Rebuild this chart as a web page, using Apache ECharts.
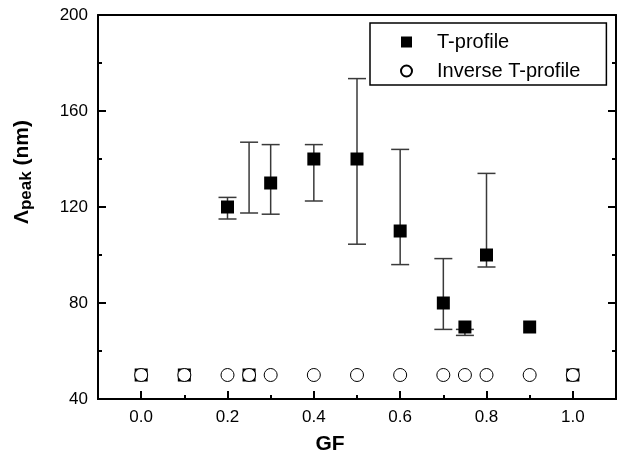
<!DOCTYPE html>
<html>
<head>
<meta charset="UTF-8">
<title>GF vs peak</title>
<script src="https://cdn.jsdelivr.net/npm/echarts@6/dist/echarts.min.js"></script>
<style>
  html, body { margin: 0; padding: 0; background: #fff; }
  #main { width: 618px; height: 460px; }
</style>
</head>
<body>
<div id="main"></div>
<script>
// data
var gfT = [0.0, 0.1, 0.2, 0.25, 0.3, 0.4, 0.5, 0.6, 0.7, 0.75, 0.8, 0.9, 1.0];
var peakT = [50, 50, 120, 50, 130, 140, 140, 110, 80, 70, 100, 70, 50];
var gfInv = [0.0, 0.1, 0.2, 0.25, 0.3, 0.4, 0.5, 0.6, 0.7, 0.75, 0.8, 0.9, 1.0];
var peakInv = [50, 50, 50, 50, 50, 50, 50, 50, 50, 50, 50, 50, 50];
// error bars (T-profile)
var errGF = [0.2, 0.25, 0.3, 0.4, 0.5, 0.6, 0.7, 0.75, 0.8];
var errLow = [115, 117.5, 117, 122.5, 104.5, 96, 69, 66.5, 95];
var errHigh = [124, 147, 146, 146, 173.5, 144, 98.5, 69, 134];
var xMajor = [0.0, 0.2, 0.4, 0.6, 0.8, 1.0];
var xMinor = [0.1, 0.3, 0.5, 0.7, 0.9];

var font = 'Liberation Sans, Arial, sans-serif';

function pairs(xs, ys) {
    return xs.map(function (x, i) { return [x, ys[i]]; });
}
var errData = errGF.map(function (x, i) { return [x, errLow[i], errHigh[i]]; });

var myChart = echarts.init(document.getElementById('main'));

var option = {
    animation: false,
    textStyle: { fontFamily: font },
    grid: { left: 98, right: 2, top: 15, bottom: 59 },
    legend: {
        left: 370, top: 23,
        orient: 'vertical',
        backgroundColor: '#fff',
        borderColor: '#000', borderWidth: 1.5,
        padding: [9, 26, 4, 30],
        itemWidth: 11, itemHeight: 11, itemGap: 9,
        textStyle: { fontSize: 20, color: '#000', padding: [0, 0, 0, 20] },
        data: [
            { name: 'T-profile', icon: 'rect' },
            { name: 'Inverse T-profile', icon: 'circle' }
        ]
    },
    xAxis: [
        {
            type: 'value', min: -0.1, max: 1.1,
            name: 'GF', nameLocation: 'middle', nameGap: 35,
            nameTextStyle: { fontSize: 21, fontWeight: 'bold', color: '#000', padding: [0, 54, 0, 0] },
            axisLine: { onZero: false, lineStyle: { color: '#000', width: 2 } },
            axisTick: { inside: true, length: 8, lineStyle: { width: 2 }, customValues: xMajor },
            axisLabel: { fontSize: 17, color: '#000', margin: 10, customValues: xMajor,
                formatter: function (v) { return v.toFixed(1); } },
            splitLine: { show: false }
        },
        {
            type: 'value', min: -0.1, max: 1.1, position: 'bottom',
            axisLine: { onZero: false, lineStyle: { color: '#000', width: 2 } },
            axisTick: { inside: true, length: 4, lineStyle: { width: 2 }, customValues: xMinor },
            axisLabel: { show: false },
            splitLine: { show: false }
        },
        {
            type: 'value', min: -0.1, max: 1.1, position: 'top',
            axisLine: { onZero: false, lineStyle: { color: '#000', width: 2 } },
            axisTick: { show: false },
            axisLabel: { show: false },
            splitLine: { show: false }
        }
    ],
    yAxis: [
        {
            type: 'value', min: 40, max: 200, interval: 40,
            name: '{a|Λ}{s|peak}{a| (nm)}', nameLocation: 'middle', nameGap: 63,
            nameTextStyle: {
                color: '#000', padding: [0, 0, 0, 70],
                rich: {
                    a: { fontSize: 21, fontWeight: 'bold', color: '#000', lineHeight: 26, fontFamily: font },
                    s: { fontSize: 17, fontWeight: 'bold', color: '#000', lineHeight: 26, verticalAlign: 'bottom', fontFamily: font, padding: [7, 0, 0, 0] }
                }
            },
            axisLine: { show: true, onZero: false, lineStyle: { color: '#000', width: 2 } },
            axisTick: { inside: true, length: 8, lineStyle: { width: 2 } },
            minorTick: { show: true, splitNumber: 2, length: 4, lineStyle: { color: '#000', width: 2 } },
            axisLabel: { fontSize: 17, color: '#000', margin: 10 },
            splitLine: { show: false }
        },
        {
            type: 'value', min: 40, max: 200, interval: 40, position: 'right',
            axisLine: { show: true, onZero: false, lineStyle: { color: '#000', width: 2 } },
            axisTick: { inside: true, length: 8, lineStyle: { width: 2 } },
            minorTick: { show: true, splitNumber: 2, length: 4, lineStyle: { color: '#000', width: 2 } },
            axisLabel: { show: false },
            splitLine: { show: false }
        }
    ],
    series: [
        {
            name: 'errors',
            type: 'custom',
            data: errData,
            z: 1,
            renderItem: function (params, api) {
                var x = api.value(0);
                var lo = api.coord([x, api.value(1)]);
                var hi = api.coord([x, api.value(2)]);
                var hw = 9;
                var st = { stroke: '#3a3a3a', lineWidth: 1.5 };
                return {
                    type: 'group',
                    children: [
                        { type: 'line', shape: { x1: lo[0], y1: lo[1], x2: hi[0], y2: hi[1] }, style: st },
                        { type: 'line', shape: { x1: lo[0] - hw, y1: lo[1], x2: lo[0] + hw, y2: lo[1] }, style: st },
                        { type: 'line', shape: { x1: hi[0] - hw, y1: hi[1], x2: hi[0] + hw, y2: hi[1] }, style: st }
                    ]
                };
            }
        },
        {
            name: 'T-profile',
            type: 'scatter',
            symbol: 'rect',
            symbolSize: 13,
            z: 2,
            itemStyle: { color: '#000', opacity: 1 },
            data: pairs(gfT, peakT)
        },
        {
            name: 'Inverse T-profile',
            type: 'scatter',
            symbol: 'circle',
            symbolSize: 13,
            z: 3,
            itemStyle: { color: '#fff', borderColor: '#000', borderWidth: 1, opacity: 1 },
            data: pairs(gfInv, peakInv)
        }
    ]
};
myChart.setOption(option);
</script>
</body>
</html>
